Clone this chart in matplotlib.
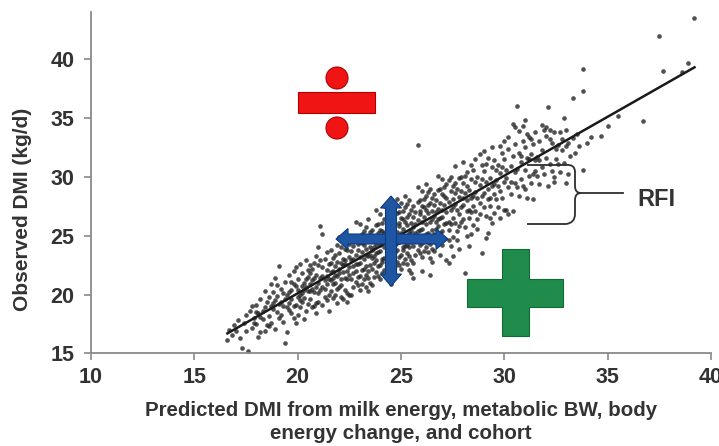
import matplotlib
matplotlib.use("Agg")
import matplotlib.pyplot as plt
from matplotlib.patches import Rectangle, Circle, Polygon
from matplotlib.path import Path
from matplotlib.patches import PathPatch

plt.rcParams['font.family'] = ['Liberation Sans', 'DejaVu Sans']

# ---- data: (predicted DMI, observed DMI) per cow ----
cows_16_19 = [(16.6,16.1),(16.7,17.0),(16.8,16.6),(16.9,17.4),(17.0,16.9),(17.1,17.8),(17.2,16.3),(17.3,15.5),
              (17.4,17.6),(17.5,18.3),(17.6,15.2),(17.5,16.9),(17.7,18.6),(17.8,17.2),(17.9,18.0),(18.0,19.1),
              (18.0,17.5),(18.1,18.4),(18.2,16.8),(18.2,19.6),(18.3,17.9),(18.4,18.9),(18.4,20.3),(18.5,17.4),
              (17.8,19.0),(18.1,16.4),(18.3,18.6),(17.9,17.6),(18.5,19.4),(18.2,18.1),(18.0,18.5),(18.4,16.9),
              (18.6,18.2),(18.6,19.8),(18.7,17.6),(18.7,20.9),(18.8,18.8),(18.8,19.3),(18.9,17.1),(18.9,21.4),
              (19.0,18.5),(19.0,19.9),(19.1,22.4),(19.1,18.0),(19.2,19.4),(19.2,20.5),(19.3,17.7),(19.3,19.0),
              (19.4,15.9),(19.4,21.1),(19.5,16.8),(19.5,18.9),(18.6,17.3),(18.8,20.2),(19.0,20.8),(19.2,18.3),
              (19.4,19.6),(18.7,19.0),(18.9,19.5),(19.1,19.2),(19.3,20.1),(19.5,20.0)]
cows_19_21 = [(19.6,19.3),(19.6,21.7),(19.7,18.4),(19.7,20.4),(19.8,22.0),(19.8,19.0),(19.9,20.7),(19.9,17.6),
              (20.0,19.8),(20.0,21.3),(20.1,18.9),(20.1,22.6),(20.2,20.1),(20.2,19.4),(20.3,21.0),(20.3,17.9),
              (20.4,20.6),(20.4,22.9),(20.5,19.2),(20.5,21.5),(19.6,20.2),(19.7,19.6),(19.8,20.9),(19.9,19.1),
              (20.0,20.4),(20.1,20.0),(20.2,21.8),(20.3,19.7),(20.4,18.6),(20.5,20.3),(19.7,21.1),(19.9,22.3),
              (20.0,18.3),(20.2,20.7),(20.4,21.3),(19.8,18.0),(20.1,19.5),(20.3,20.4),(20.5,22.1),(19.6,18.7),
              (20.6,20.9),(20.6,19.6),(20.7,22.2),(20.7,18.9),(20.8,21.4),(20.8,20.2),(20.9,23.3),(20.9,19.3),
              (21.0,21.0),(21.0,22.5),(21.1,20.4),(21.1,25.8),(21.2,25.1),(21.2,21.6),(21.3,19.8),(21.3,23.0),
              (21.4,20.9),(21.4,22.1),(21.5,18.6),(21.5,21.3),(20.6,21.8),(20.7,20.5),(20.8,19.0),(20.9,21.7),
              (21.0,20.1),(21.1,22.9),(21.2,20.6),(21.3,21.2),(21.4,23.6),(21.5,20.0),(20.6,20.3),(20.8,22.7),
              (21.0,19.4),(21.2,22.3),(21.4,19.5),(20.7,21.2),(20.9,20.6),(21.1,21.4),(21.3,20.5),(21.5,22.6),
              (20.6,22.5),(20.9,18.4),(21.2,19.1),(21.4,21.6),(21.0,24.0)]
cows_21_23 = [(21.6,21.9),(21.6,20.3),(21.7,23.1),(21.7,19.7),(21.8,22.4),(21.8,21.0),(21.9,24.2),(21.9,20.5),
              (22.0,21.8),(22.0,23.5),(22.1,20.8),(22.1,22.7),(22.2,19.6),(22.2,24.6),(22.3,21.4),(22.3,22.9),
              (22.4,20.1),(22.4,23.8),(22.5,21.7),(22.5,22.3),(21.6,22.7),(21.7,21.4),(21.8,20.0),(21.9,22.8),
              (22.0,20.6),(22.1,24.0),(22.2,21.9),(22.3,20.4),(22.4,22.0),(22.5,24.3),(21.6,23.8),(21.7,20.9),
              (21.8,23.4),(21.9,21.6),(22.0,22.2),(22.1,21.3),(22.2,23.0),(22.3,23.9),(22.4,21.3),(22.5,20.0),
              (21.7,22.0),(21.9,19.3),(22.0,24.9),(22.2,22.5),(22.4,19.4),(21.8,21.7),(22.1,19.8),(22.3,22.6),
              (22.5,23.2),(21.6,21.2),
              (22.6,22.9),(22.6,21.3),(22.7,24.1),(22.7,20.6),(22.8,23.4),(22.8,22.0),(22.9,25.0),(22.9,21.5),
              (23.0,22.7),(23.0,24.5),(23.1,20.9),(23.1,23.6),(23.2,22.2),(23.2,25.4),(23.3,21.7),(23.3,23.9),
              (23.4,20.3),(23.4,24.8),(23.5,22.5),(23.5,23.4),(22.6,23.7),(22.7,22.4),(22.8,21.1),(22.9,23.8),
              (23.0,21.6),(23.1,25.1),(23.2,23.0),(23.3,22.4),(23.4,23.3),(23.5,21.0),(22.6,24.6),(22.7,21.8),
              (22.8,24.9),(22.9,22.6),(23.0,23.2),(23.1,22.1),(23.2,24.2),(23.3,25.7),(23.4,22.0),(23.5,25.3),
              (22.6,20.0),(22.8,22.6),(23.0,20.4),(23.2,21.3),(23.4,21.4),(22.7,23.0),(22.9,20.8),(23.1,24.4),
              (23.3,20.6),(23.5,24.0),(22.8,26.2),(23.0,26.0),(23.3,23.4),(22.9,24.3),(23.4,26.4)]
cows_23_25 = [(23.6,23.8),(23.6,22.2),(23.7,25.0),(23.7,21.5),(23.8,24.3),(23.8,22.9),(23.9,26.0),(23.9,22.4),
              (24.0,23.7),(24.0,25.5),(24.1,21.8),(24.1,24.6),(24.2,23.1),(24.2,26.4),(24.3,22.6),(24.3,24.9),
              (24.4,21.2),(24.4,25.8),(24.5,23.5),(24.5,24.4),(23.6,24.6),(23.7,23.3),(23.8,21.9),(23.9,24.8),
              (24.0,22.5),(24.1,26.1),(24.2,24.0),(24.3,23.3),(24.4,24.3),(24.5,22.0),(23.6,25.5),(23.7,22.7),
              (23.8,25.9),(23.9,23.6),(24.0,24.2),(24.1,23.0),(24.2,25.2),(24.3,26.7),(24.4,23.0),(24.5,26.2),
              (23.6,20.8),(23.8,23.5),(24.0,21.3),(24.2,22.1),(24.4,22.4),(23.7,24.0),(23.9,21.6),(24.1,25.4),
              (24.3,21.6),(24.5,25.1),(23.8,27.2),(24.0,26.8),(24.2,27.5),(24.4,27.0),(24.5,20.9),(23.9,25.2),
              (24.1,22.8),(24.3,25.6),(23.6,23.1),(24.4,24.9),
              (24.6,24.7),(24.6,23.1),(24.7,26.0),(24.7,22.4),(24.8,25.3),(24.8,23.8),(24.9,27.0),(24.9,23.2),
              (25.0,24.6),(25.0,26.5),(25.1,22.7),(25.1,25.6),(25.2,24.1),(25.2,27.4),(25.3,23.5),(25.3,25.9),
              (25.4,22.1),(25.4,26.8),(25.5,24.5),(25.5,25.4),(24.6,25.6),(24.7,24.2),(24.8,22.8),(24.9,25.8),
              (25.0,23.4),(25.1,27.1),(25.2,25.0),(25.3,24.2),(25.4,25.2),(25.5,22.9),(24.6,26.5),(24.7,23.6),
              (24.8,26.9),(24.9,24.5),(25.0,25.2),(25.1,24.0),(25.2,26.2),(25.3,27.7),(25.4,24.0),(25.5,27.2),
              (24.6,21.7),(24.8,24.4),(25.0,22.2),(25.2,23.0),(25.4,23.3),(24.7,25.0),(24.9,22.5),(25.1,26.4),
              (25.3,22.6),(25.5,26.1),(24.8,28.1),(25.0,27.8),(25.2,28.4),(25.4,28.0),(25.5,21.8),(24.9,26.1),
              (25.1,23.8),(25.3,26.6),(25.8,32.7),(25.6,21.4)]
cows_25_27 = [(25.6,25.7),(25.6,24.1),(25.7,27.0),(25.7,23.4),(25.8,26.3),(25.8,24.8),(25.9,28.0),(25.9,24.2),
              (26.0,25.6),(26.0,27.5),(26.1,23.7),(26.1,26.6),(26.2,25.1),(26.2,28.4),(26.3,24.5),(26.3,26.9),
              (26.4,23.1),(26.4,27.8),(26.5,25.5),(26.5,26.4),(25.6,26.6),(25.7,25.2),(25.8,23.8),(25.9,26.8),
              (26.0,24.4),(26.1,28.1),(26.2,26.0),(26.3,25.2),(26.4,26.2),(26.5,23.9),(25.6,27.5),(25.7,24.6),
              (25.8,27.9),(25.9,25.5),(26.0,26.2),(26.1,25.0),(26.2,27.2),(26.3,28.7),(26.4,25.0),(26.5,28.2),
              (25.6,22.7),(25.8,25.4),(26.0,23.2),(26.2,24.0),(26.4,21.7),(25.7,26.0),(25.9,23.5),(26.1,27.4),
              (26.3,23.6),(26.5,27.1),(25.8,29.1),(26.0,28.8),(26.2,29.4),(26.4,29.0),(26.5,22.8),(25.9,27.1),
              (26.1,24.8),(26.3,27.6),(26.0,22.0),(26.4,24.3),
              (26.6,26.7),(26.6,25.1),(26.7,28.0),(26.7,24.4),(26.8,27.3),(26.8,25.8),(26.9,29.0),(26.9,25.2),
              (27.0,26.6),(27.0,28.5),(27.1,24.7),(27.1,27.6),(27.2,26.1),(27.2,29.4),(27.3,25.5),(27.3,27.9),
              (27.4,24.1),(27.4,28.8),(27.5,26.5),(27.5,27.4),(26.6,27.6),(26.7,26.2),(26.8,24.8),(26.9,27.8),
              (27.0,25.4),(27.1,29.1),(27.2,27.0),(27.3,26.2),(27.4,27.2),(27.5,24.9),(26.6,28.5),(26.7,25.6),
              (26.8,28.9),(26.9,26.5),(27.0,27.2),(27.1,26.0),(27.2,28.2),(27.3,29.7),(27.4,26.0),(27.5,29.2),
              (26.6,23.7),(26.8,26.4),(27.0,24.2),(27.2,22.9),(27.3,22.7),(26.7,27.0),(26.9,24.5),(27.1,28.4),
              (27.3,24.6),(27.5,28.1),(26.8,30.1),(27.0,29.8),(27.4,30.0),(26.9,23.4),(27.5,23.3)]
cows_27_30 = [(27.6,27.7),(27.6,26.1),(27.7,29.0),(27.7,25.4),(27.8,28.3),(27.8,26.8),(27.9,30.0),(27.9,26.2),
              (28.0,27.6),(28.0,29.5),(28.1,25.7),(28.1,28.6),(28.2,27.1),(28.2,30.4),(28.3,26.5),(28.3,28.9),
              (28.4,25.1),(28.4,29.8),(28.5,27.5),(28.5,28.4),(27.6,28.6),(27.7,27.2),(27.8,25.8),(27.9,28.8),
              (28.0,26.4),(28.1,30.1),(28.2,28.0),(28.3,27.2),(28.4,28.2),(28.5,25.9),(27.6,29.5),(27.8,29.9),
              (28.0,28.2),(28.2,29.2),(28.4,27.0),(27.7,24.6),(28.1,21.8),(28.3,24.1),(27.9,27.4),(28.5,30.6),
              (27.6,30.9),(28.0,31.3),(28.4,31.0),(27.8,23.9),(28.2,25.0),
              (28.6,28.7),(28.6,27.1),(28.7,30.0),(28.7,26.4),(28.8,29.3),(28.8,27.8),(28.9,31.0),(28.9,23.5),
              (29.0,28.6),(29.0,30.5),(29.1,26.7),(29.1,29.6),(29.2,28.1),(29.2,25.2),(29.3,27.5),(29.3,29.9),
              (29.4,26.1),(29.4,30.8),(29.5,28.5),(29.5,29.4),(28.6,29.6),(28.7,28.2),(28.8,26.8),(28.9,29.8),
              (29.0,27.4),(29.1,31.1),(29.2,29.0),(29.3,28.2),(29.4,29.2),(29.5,26.9),(28.6,31.5),(28.8,31.9),
              (29.0,32.2),(29.2,31.6),(29.4,32.5),(28.7,25.6),(29.1,24.8),(29.3,26.5),(28.9,28.4),(29.5,31.4),
              (29.6,29.7),(29.6,28.1),(29.7,31.0),(29.7,27.4),(29.8,30.3),(29.8,28.8),(29.9,32.0),(29.9,28.2),
              (30.0,29.6),(30.0,31.5),(30.1,27.2),(30.1,30.6),(30.2,29.1),(30.2,32.4),(30.3,28.5),(30.3,30.9),
              (30.4,27.1),(30.4,31.8),(30.5,29.5),(30.5,30.4),(29.6,30.6),(29.8,32.6),(30.0,33.0),(30.2,33.4),
              (30.4,34.5),(30.6,36.0),(30.5,34.2),(29.7,29.2),(29.9,30.8),(30.1,29.9),(30.3,29.6),(30.0,27.2),
              (30.2,26.8),(29.8,26.5),(30.5,32.8)]
cows_30_40 = [(30.6,30.7),(30.6,29.1),(30.7,32.0),(30.7,28.4),(30.8,31.3),(30.8,29.8),(30.9,33.0),(30.9,29.2),
              (31.0,30.6),(31.0,32.5),(31.1,28.2),(31.1,31.6),(31.2,30.1),(31.2,33.4),(31.3,29.5),(31.3,31.9),
              (31.4,28.1),(31.4,32.8),(31.5,30.5),(31.5,31.4),(30.7,33.9),(30.9,34.3),(31.1,33.6),(31.3,33.2),
              (31.5,33.8),(30.8,31.8),(31.0,29.0),(31.2,31.5),(31.4,30.2),(31.0,34.8),
              (31.6,31.7),(31.6,30.1),(31.7,33.0),(31.7,29.4),(31.8,32.3),(31.8,30.8),(31.9,34.0),(31.9,30.2),
              (32.0,31.6),(32.0,33.5),(32.1,29.2),(32.1,35.9),(32.2,31.1),(32.2,33.2),(32.3,30.5),(32.3,32.9),
              (32.4,30.0),(32.4,33.8),(32.5,31.5),(32.5,32.4),(31.8,34.4),(32.0,34.2),(32.2,34.0),(31.7,31.4),
              (32.4,29.6),
              (32.6,32.7),(32.6,31.1),(32.7,33.8),(32.7,30.4),(32.8,32.3),(32.8,33.2),(32.9,35.0),(32.9,31.2),
              (33.0,32.6),(33.0,34.0),(33.1,30.2),(33.1,32.9),(33.2,31.8),(33.3,36.7),(33.3,33.3),(33.4,32.0),
              (33.5,33.6),(33.0,29.5),
              (33.6,32.6),(33.8,30.6),(33.8,37.3),(33.8,39.2),(34.0,32.9),(34.2,33.4),(34.7,33.5),(35.0,34.3),
              (36.7,34.7),(37.5,42.0),(37.7,39.0),(38.9,39.7),(39.2,43.5),(38.6,38.9),(35.5,35.2)]

# regression line end points (predicted, observed)
fit_pred = [16.6, 39.2]
fit_obs = [16.7, 39.3]

x_ticks = [10, 15, 20, 25, 30, 35, 40]
y_ticks = [15, 20, 25, 30, 35, 40]
x_label = "Predicted DMI from milk energy, metabolic BW, body\nenergy change, and cohort"
y_label = "Observed DMI (kg/d)"
rfi_label = "RFI"

# ---- figure ----
W, H = 719, 446
fig = plt.figure(figsize=(W / 100, H / 100), dpi=100)
ax = fig.add_axes([91 / W, (H - 353.4) / H, 620 / W, 341.4 / H])

all_cows = cows_16_19 + cows_19_21 + cows_21_23 + cows_23_25 + cows_25_27 + cows_27_30 + cows_30_40
pred = [p for p, o in all_cows]
obs = [o for p, o in all_cows]

text_col = '#333333'
axis_col = '#8a8a8a'

ax.scatter(pred, obs, s=11, color='#242424', alpha=0.8, linewidths=0, zorder=2)
ax.plot(fit_pred, fit_obs, color='#1a1a1a', lw=1.8, zorder=3)

ax.set_xlim(10, 40)
ax.set_ylim(15, 44)
ax.set_xticks(x_ticks)
ax.set_yticks(y_ticks)
ax.tick_params(axis='both', direction='out', length=5, width=1.2, color=axis_col,
               labelsize=15.5, labelcolor=text_col)
ax.tick_params(axis='x', pad=5)
ax.tick_params(axis='y', pad=7)
ax.set_xticklabels([str(t) for t in x_ticks])
for lab in ax.get_xticklabels() + ax.get_yticklabels():
    lab.set_fontweight('bold')
for s in ['top', 'right']:
    ax.spines[s].set_visible(False)
for s in ['left', 'bottom']:
    ax.spines[s].set_color(axis_col)
    ax.spines[s].set_linewidth(1.3)
ax.patch.set_alpha(0)

fig.text(401 / W, 1 - 422 / H, x_label, ha='center', va='center', fontsize=14.8,
         fontweight='bold', color=text_col, linespacing=1.32)
fig.text(23 / W, 1 - 209 / H, y_label, ha='center', va='center', rotation=90,
         fontsize=15, fontweight='bold', color=text_col)

# ---- decorations in pixel coordinates ----
deco = fig.add_axes([0, 0, 1, 1], zorder=5)
deco.set_xlim(0, W)
deco.set_ylim(H, 0)
deco.axis('off')
deco.patch.set_alpha(0)

# red divide sign
red, red_edge = '#f01414', '#b00000'
deco.add_patch(Rectangle((298, 92), 77, 21, facecolor=red, edgecolor=red_edge, lw=0.8))
deco.add_patch(Circle((337, 78), 11, facecolor=red, edgecolor=red_edge, lw=0.8))
deco.add_patch(Circle((337, 128), 11, facecolor=red, edgecolor=red_edge, lw=0.8))

# blue double arrows
blue, blue_edge = '#1f56a3', '#0c3a7e'
def dbl_arrow_v(xc, y0, y1, sw, hw, hl):
    pts = [(xc, y0), (xc + hw / 2, y0 + hl), (xc + sw / 2, y0 + hl), (xc + sw / 2, y1 - hl),
           (xc + hw / 2, y1 - hl), (xc, y1), (xc - hw / 2, y1 - hl), (xc - sw / 2, y1 - hl),
           (xc - sw / 2, y0 + hl), (xc - hw / 2, y0 + hl)]
    return Polygon(pts, closed=True, facecolor=blue, edgecolor=blue_edge, lw=0.8)
def dbl_arrow_h(yc, x0, x1, sw, hw, hl):
    pts = [(x0, yc), (x0 + hl, yc - hw / 2), (x0 + hl, yc - sw / 2), (x1 - hl, yc - sw / 2),
           (x1 - hl, yc - hw / 2), (x1, yc), (x1 - hl, yc + hw / 2), (x1 - hl, yc + sw / 2),
           (x0 + hl, yc + sw / 2), (x0 + hl, yc + hw / 2)]
    return Polygon(pts, closed=True, facecolor=blue, edgecolor=blue_edge, lw=0.8)
deco.add_patch(dbl_arrow_h(239, 336, 448, 10, 21, 12))
deco.add_patch(dbl_arrow_v(391, 196, 286, 11, 21, 12))

# green plus
green, green_edge = '#1f8c4b', '#116b36'
plus = [(502, 249), (529, 249), (529, 279), (563, 279), (563, 307), (529, 307), (529, 336),
        (502, 336), (502, 307), (467, 307), (467, 279), (502, 279)]
deco.add_patch(Polygon(plus, closed=True, facecolor=green, edgecolor=green_edge, lw=0.8))

# curly bracket
verts = [(527, 165), (566, 165), (575, 164), (575, 172),
         (575, 186), (575, 193), (581, 193),
         (575, 193), (575, 200), (575, 214),
         (575, 223), (566, 224), (527, 224)]
codes = [Path.MOVETO, Path.LINETO, Path.CURVE3, Path.CURVE3,
         Path.LINETO, Path.CURVE3, Path.CURVE3,
         Path.CURVE3, Path.CURVE3, Path.LINETO,
         Path.CURVE3, Path.CURVE3, Path.LINETO]
deco.add_patch(PathPatch(Path(verts, codes), facecolor='none', edgecolor='#2e2e2e', lw=1.3))
deco.plot([581, 623], [193, 193], color='#2e2e2e', lw=1.3)
deco.text(637, 199, rfi_label, ha='left', va='center', fontsize=17, fontweight='bold', color=text_col)

fig.savefig('out.png', dpi=100)
